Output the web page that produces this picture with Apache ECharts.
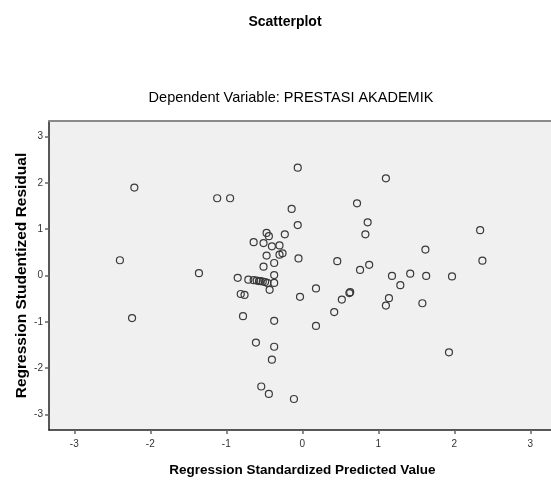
<!DOCTYPE html>
<html>
<head>
<meta charset="utf-8">
<script src="https://cdn.jsdelivr.net/npm/echarts@6/dist/echarts.min.js"></script>
<style>
  html, body { margin: 0; padding: 0; background: #fff; }
  #scatter_chart { width: 551px; height: 481px; }
</style>
</head>
<body>
<div id="scatter_chart"></div>
<script>
var myChart = echarts.init(document.getElementById('scatter_chart'));

// standardized predicted value (x) and studentized residual (y)
var predicted = [
  -2.21, -1.12, -0.95, -2.40, -1.36, -2.24, -0.85, -0.71,
  -0.64, -0.60, -0.57, -0.55, -0.52, -0.49, -0.46,
  -0.81, -0.76, -0.78, -0.37, -0.61, -0.37, -0.40, -0.54, -0.44, -0.11,
  -0.47, -0.44, -0.64, -0.51, -0.40, -0.30, -0.23, -0.26, -0.30, -0.47,
  -0.37, -0.51, -0.37, -0.37, -0.43,
  -0.06, -0.14, -0.06, -0.05, -0.03, 0.18, 0.18, 0.42, 0.52, 0.63, 0.62,
  0.46, 0.72, 0.86, 0.83, 0.76, 0.88, 1.10, 1.18, 1.42, 1.29, 1.14, 1.10,
  1.63, 1.62, 1.58, 1.97, 1.93, 2.34, 2.37
];
var residual = [
  1.90, 1.67, 1.67, 0.33, 0.05, -0.92, -0.05, -0.09,
  -0.10, -0.11, -0.12, -0.12, -0.13, -0.14, -0.16,
  -0.40, -0.42, -0.88, -0.98, -1.45, -1.54, -1.82, -2.40, -2.56, -2.67,
  0.92, 0.85, 0.72, 0.70, 0.63, 0.65, 0.89, 0.48, 0.45, 0.43,
  0.27, 0.19, 0.01, -0.16, -0.31,
  2.33, 1.44, 1.09, 0.37, -0.46, -0.28, -1.09, -0.79, -0.52, -0.36, -0.38,
  0.31, 1.56, 1.15, 0.89, 0.12, 0.23, 2.10, -0.01, 0.04, -0.21, -0.49, -0.65,
  -0.01, 0.56, -0.60, -0.02, -1.66, 0.98, 0.32
];
var tickValues = [-3, -2, -1, 0, 1, 2, 3];

var points = predicted.map(function (v, i) { return [v, residual[i]]; });
var font = '"Liberation Sans", Arial, sans-serif';

option = {
    title: [
        {
            text: 'Scatterplot',
            left: 280,
            top: 10,
            textAlign: 'center',
            textStyle: { fontFamily: font, fontSize: 14, fontWeight: 'bold', color: '#000' }
        },
        {
            text: 'Dependent Variable: PRESTASI AKADEMIK',
            left: 286,
            top: 85,
            textAlign: 'center',
            textStyle: { fontFamily: font, fontSize: 14.5, fontWeight: 'normal', color: '#000' }
        }
    ],
    grid: {
        left: 49,
        top: 121,
        bottom: 51,
        right: -4.6,   // the plot runs off the right edge of the picture
        outerBoundsMode: 'none',
        containLabel: false,
        show: true,
        backgroundColor: '#f0f0f0',
        borderWidth: 0,
        borderColor: 'rgba(0,0,0,0)'
    },
    xAxis: [
        {
            type: 'value',
            min: -3.333,
            max: 3.333,
            name: 'Regression Standardized Predicted Value',
            nameLocation: 'middle',
            nameGap: 33,
            nameMoveOverlap: false,
            nameTextStyle: { fontFamily: font, fontSize: 13.5, fontWeight: 'bold', color: '#000' },
            splitLine: { show: false },
            axisLine: { onZero: false, lineStyle: { color: '#222', width: 1.5 } },
            axisTick: { customValues: tickValues, length: 4, lineStyle: { color: '#666', width: 1.5 } },
            axisLabel: { customValues: tickValues, margin: 9, fontFamily: font, fontSize: 10, color: '#333' }
        },
        {
            type: 'value',
            position: 'top',
            min: -3.333,
            max: 3.333,
            splitLine: { show: false },
            axisLine: { onZero: false, lineStyle: { color: '#8a8a8a', width: 2 } },
            axisTick: { show: false },
            axisLabel: { show: false }
        }
    ],
    yAxis: {
        type: 'value',
        min: -3.34,
        max: 3.34,
        name: 'Regression Studentized Residual',
        nameLocation: 'middle',
        nameGap: 19,
        nameMoveOverlap: false,
        nameTextStyle: { fontFamily: font, fontSize: 15.5, fontWeight: 'bold', color: '#000' },
        splitLine: { show: false },
        axisLine: { onZero: false, lineStyle: { color: '#222', width: 1.5 } },
        axisTick: { customValues: tickValues, length: 4, lineStyle: { color: '#666', width: 1.5 } },
        axisLabel: { customValues: tickValues, margin: 6, fontFamily: font, fontSize: 10, color: '#333' }
    },
    series: [
        {
            type: 'scatter',
            xAxisIndex: 0,
            data: points,
            symbol: 'circle',
            symbolSize: 7,
            itemStyle: {
                color: 'rgba(0,0,0,0)',
                borderColor: '#3a3a3a',
                borderWidth: 1.2,
                opacity: 1
            }
        }
    ]
};
myChart.setOption(option);
</script>
</body>
</html>
